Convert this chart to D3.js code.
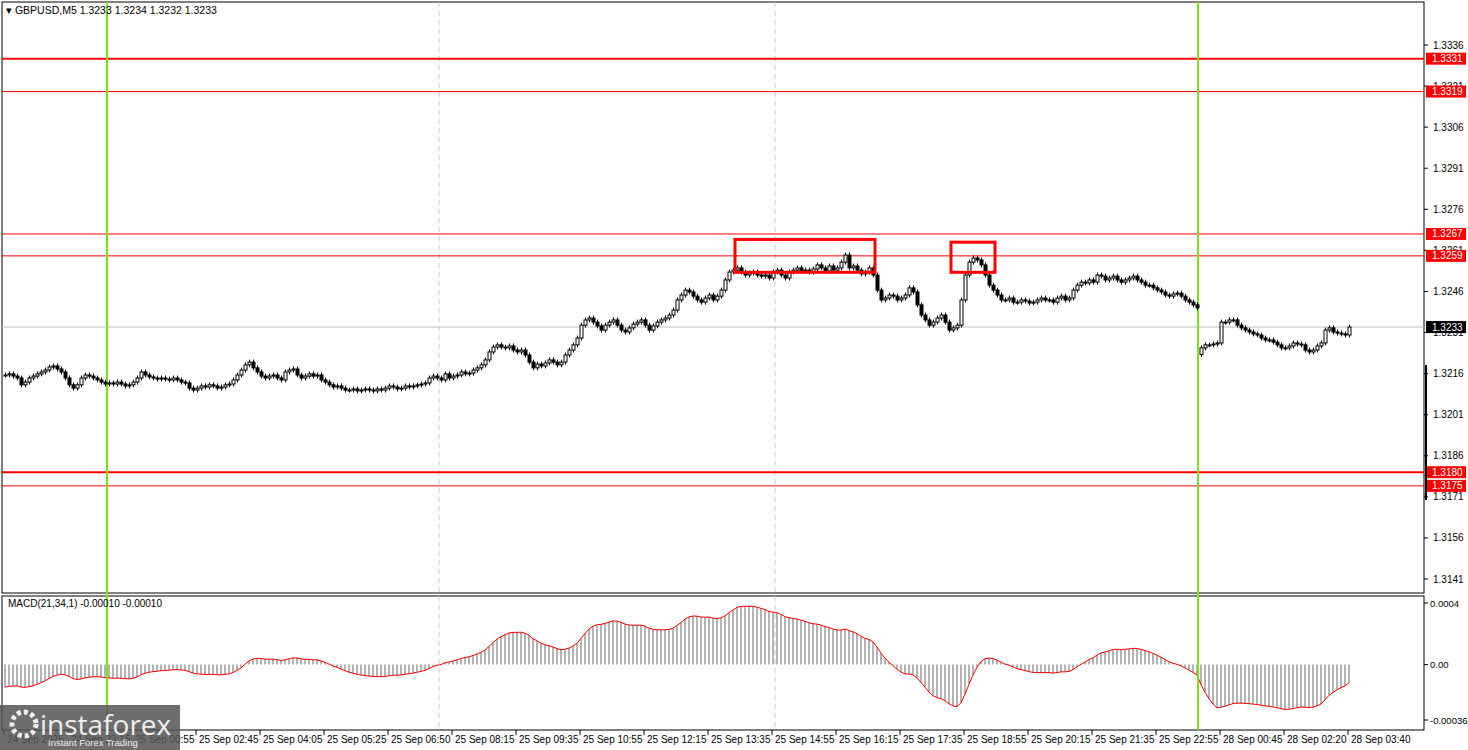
<!DOCTYPE html>
<html><head><meta charset="utf-8">
<script src="https://cdn.jsdelivr.net/npm/d3@7"></script>
<style>body{margin:0;background:#fff}svg{display:block;font-family:"Liberation Sans",Arial,sans-serif}</style>
</head><body><svg id="c" width="1468" height="750"></svg>
<script>
const closes=[
1.32155,1.32159,1.32151,1.32144,1.32119,1.32129,1.32144,1.32151,1.32159,1.32166,1.32173,1.32184,1.32188,1.32177,1.32166,1.32144,1.32119,1.32107,1.32119,1.32144,1.32155,1.32151,1.32144,1.32137,1.32129,1.32122,
1.32126,1.32122,1.32129,1.32122,1.32115,1.32119,1.32129,1.32144,1.32166,1.32155,1.32148,1.32144,1.32140,1.32144,1.32140,1.32137,1.32144,1.32137,1.32129,1.32126,1.32107,1.32100,1.32107,1.32115,1.32111,
1.32119,1.32115,1.32107,1.32111,1.32119,1.32122,1.32137,1.32155,1.32173,1.32192,1.32202,1.32181,1.32166,1.32151,1.32144,1.32151,1.32155,1.32144,1.32137,1.32166,1.32173,1.32177,1.32155,1.32144,1.32151,
1.32159,1.32151,1.32155,1.32137,1.32129,1.32119,1.32111,1.32115,1.32107,1.32100,1.32100,1.32104,1.32097,1.32100,1.32104,1.32100,1.32097,1.32104,1.32100,1.32107,1.32115,1.32111,1.32104,1.32107,1.32115,
1.32111,1.32115,1.32119,1.32122,1.32126,1.32144,1.32151,1.32144,1.32137,1.32159,
1.32144,1.32151,1.32155,1.32166,1.32159,1.32162,1.32173,1.32181,1.32192,1.32210,1.32239,1.32257,1.32265,1.32257,1.32254,1.32261,1.32246,1.32239,1.32246,1.32228,1.32202,1.32181,1.32195,1.32188,1.32199,
1.32210,1.32202,1.32192,1.32202,1.32228,1.32246,1.32265,1.32290,1.32337,1.32356,1.32363,1.32348,1.32334,1.32319,1.32337,1.32348,1.32356,1.32337,1.32319,1.32312,1.32327,1.32341,1.32348,1.32356,1.32337,
1.32319,1.32334,1.32348,1.32356,1.32363,1.32374,1.32392,1.32429,1.32447,1.32465,1.32458,1.32443,1.32429,1.32421,1.32436,1.32447,1.32429,1.32443,1.32465,1.32502,1.32531,1.32538,1.32546,1.32531,1.32520,
1.32527,1.32531,1.32520,1.32516,1.32520,1.32509,1.32531,1.32538,1.32520,1.32509,1.32531,1.32538,1.32546,1.32535,1.32538,1.32531,1.32542,1.32557,1.32546,1.32535,1.32553,1.32538,1.32546,1.32567,1.32593,
1.32546,1.32553,1.32538,1.32524,1.32531,1.32546,1.32520,1.32465,1.32429,1.32436,1.32447,1.32443,1.32429,1.32436,1.32447,1.32473,1.32458,1.32411,1.32374,1.32356,1.32337,1.32348,1.32363,1.32374,1.32348,
1.32319,1.32327,1.32337,1.32429,1.32520,1.32567,1.32582,1.32575,1.32557,1.32520,1.32483,1.32465,1.32447,1.32429,1.32429,1.32436,1.32421,1.32421,1.32429,1.32425,1.32418,1.32421,1.32429,1.32436,1.32429,
1.32429,1.32421,1.32436,1.32443,1.32429,1.32436,1.32465,1.32483,1.32494,1.32491,1.32502,1.32494,1.32520,1.32516,1.32502,1.32509,1.32516,1.32502,1.32494,1.32502,1.32509,1.32516,1.32502,1.32494,1.32483,
1.32483,1.32473,1.32465,1.32458,1.32447,1.32443,1.32451,1.32454,1.32443,1.32429,1.32421,1.32411,1.32400,
1.32254,1.32265,1.32265,1.32268,1.32272,1.32348,1.32348,1.32356,1.32356,1.32337,1.32327,1.32319,1.32312,1.32305,1.32301,1.32290,1.32283,1.32283,1.32275,1.32265,1.32254,1.32254,1.32261,1.32272,1.32268,1.32265,1.32246,1.32239,1.32246,1.32261,1.32272,1.32319,1.32327,1.32312,1.32308,1.32305,1.32301,1.32330];
const gapOpen={299:1.32230};
const priceTicks=[1.3336,1.3321,1.3306,1.3291,1.3276,1.3261,1.3246,1.3231,1.3216,1.3201,1.3186,1.3171,1.3156,1.3141];
const levels=[{p:1.3331,w:2},{p:1.3319,w:1},{p:1.3267,w:1},{p:1.3259,w:1},{p:1.3180,w:2},{p:1.3175,w:1}];
const lastPrice=1.3233;
const timeLabels=["24 Sep 2025","24 Sep 23:15","25 Sep 00:55","25 Sep 02:45","25 Sep 04:05","25 Sep 05:25","25 Sep 06:50","25 Sep 08:15","25 Sep 09:35","25 Sep 10:55","25 Sep 12:15","25 Sep 13:35","25 Sep 14:55","25 Sep 16:15","25 Sep 17:35","25 Sep 18:55","25 Sep 20:15","25 Sep 21:35","25 Sep 22:55","28 Sep 00:45","28 Sep 02:20","28 Sep 03:40"];
const macdTicks=[{v:0.0004,t:"0.0004"},{v:0,t:"0.00"},{v:-0.00036,t:"-0.00036"}];
const dayLines=[25.5,298.25];
const sepLines=[108.5,192.5];
const boxes=[{i0:182.5,i1:217.5,hi:1.3265,lo:1.3253},{i0:236.5,i1:247.5,hi:1.3264,lo:1.3253}];

const svg=d3.select("#c");
const L=2,R=1424,T=2,B=593,MT=596,MB=730;
const x=d3.scaleLinear().domain([0,closes.length-1]).range([5,1349]);
const y=d3.scaleLinear().domain([1.3141,1.3336]).range([579,45]);
const ym=d3.scaleLinear().domain([-0.00036,0.0004]).range([720,603]);

const opens=closes.map((c,i)=>gapOpen[i]!==undefined?gapOpen[i]:(i?closes[i-1]:c));
let e21=1.32170,e34=1.32185;const a21=2/22,a34=2/35;
const macd=closes.map(c=>{e21+=a21*(c-e21);e34+=a34*(c-e34);return e21-e34;});

svg.append("rect").attr("x",L).attr("y",T).attr("width",R-L).attr("height",B-T).attr("fill","none").attr("stroke","#000");
svg.append("rect").attr("x",L).attr("y",MT).attr("width",R-L).attr("height",MB-MT).attr("fill","none").attr("stroke","#000");

sepLines.forEach(i=>{svg.append("line").attr("x1",x(i)).attr("x2",x(i)).attr("y1",T).attr("y2",MB).attr("stroke","#c8c8c8").attr("stroke-dasharray","5,4");});
svg.append("line").attr("x1",L).attr("x2",R).attr("y1",y(lastPrice)).attr("y2",y(lastPrice)).attr("stroke","#c0c0c0");
levels.forEach(l=>svg.append("line").attr("x1",L).attr("x2",R).attr("y1",y(l.p)).attr("y2",y(l.p)).attr("stroke","#f00").attr("stroke-width",l.w));

svg.append("g").selectAll("line").data(macd).join("line")
 .attr("x1",(d,i)=>x(i)).attr("x2",(d,i)=>x(i)).attr("y1",ym(0)).attr("y2",d=>ym(d)).attr("stroke","#b4b4b4").attr("stroke-width",2);
svg.append("path").datum(macd).attr("d",d3.line().x((d,i)=>x(i)).y(d=>ym(d))).attr("fill","none").attr("stroke","#f00").attr("stroke-width",1);

dayLines.forEach(i=>svg.append("line").attr("x1",x(i)).attr("x2",x(i)).attr("y1",T).attr("y2",MB).attr("stroke","#7fe01e").attr("stroke-width",2));

const wk=0.00009;
const g=svg.append("g");
closes.forEach((c,i)=>{
 const o=opens[i],hi=Math.max(o,c)+wk,lo=Math.min(o,c)-wk,xx=Math.round(x(i))+0.5;
 g.append("line").attr("x1",xx).attr("x2",xx).attr("y1",y(hi)).attr("y2",y(lo)).attr("stroke","#000");
 const top=y(Math.max(o,c)),h=Math.max(1,Math.abs(y(o)-y(c)));
 g.append("rect").attr("x",xx-1.5).attr("y",top).attr("width",3).attr("height",h).attr("fill",c>=o?"#fff":"#000").attr("stroke","#000").attr("stroke-width",1);
});
boxes.forEach(b=>svg.append("rect").attr("x",x(b.i0)).attr("y",y(b.hi)).attr("width",x(b.i1)-x(b.i0)).attr("height",y(b.lo)-y(b.hi)).attr("fill","none").attr("stroke","#f00").attr("stroke-width",3));

const ax=svg.append("g").attr("font-size",10);
priceTicks.forEach(p=>{ax.append("line").attr("x1",R).attr("x2",R+4).attr("y1",y(p)).attr("y2",y(p)).attr("stroke","#000");
 ax.append("text").attr("x",R+9).attr("y",y(p)+3.5).text(p.toFixed(4));});
levels.forEach(l=>{ax.append("rect").attr("x",R+2).attr("y",y(l.p)-6).attr("width",40).attr("height",12).attr("fill","#f00");
 ax.append("text").attr("x",R+8).attr("y",y(l.p)+3.5).attr("fill","#fff").text(l.p.toFixed(4));});
ax.append("rect").attr("x",R+2).attr("y",y(lastPrice)-6).attr("width",40).attr("height",12).attr("fill","#000");
ax.append("text").attr("x",R+8).attr("y",y(lastPrice)+3.5).attr("fill","#fff").text(lastPrice.toFixed(4));
svg.append("line").attr("x1",R+2).attr("x2",R+2).attr("y1",365).attr("y2",500).attr("stroke","#000").attr("stroke-width",2);
macdTicks.forEach(m=>{ax.append("line").attr("x1",R).attr("x2",R+4).attr("y1",ym(m.v)).attr("y2",ym(m.v)).attr("stroke","#000");
 ax.append("text").attr("x",R+6).attr("y",ym(m.v)+3.5).attr("font-size",9.5).text(m.t);});

const ta=svg.append("g").attr("font-size",10);
timeLabels.forEach((t,k)=>{const xx=x(k*16)-1;
 ta.append("line").attr("x1",xx).attr("x2",xx).attr("y1",MB).attr("y2",MB+5).attr("stroke","#000");
 ta.append("text").attr("x",xx+3).attr("y",743).text(t);});

svg.append("text").attr("x",6).attr("y",14).attr("font-size",10.5).text("▾ GBPUSD,M5  1.3233 1.3234 1.3232 1.3233");
svg.append("text").attr("x",8).attr("y",607).attr("font-size",10).text("MACD(21,34,1) -0.00010 -0.00010");

const wm=svg.append("g");
wm.append("rect").attr("x",0).attr("y",705).attr("width",180).attr("height",45).attr("fill","#555").attr("opacity",0.85);
wm.append("circle").attr("cx",24).attr("cy",724).attr("r",12).attr("fill","none").attr("stroke","#eee").attr("stroke-width",5).attr("stroke-dasharray","4,3");
wm.append("text").attr("x",40).attr("y",735).attr("font-size",28).attr("fill","#eee").attr("font-family","Open Sans, sans-serif").text("instaforex");
wm.append("text").attr("x",48).attr("y",746).attr("font-size",9.5).attr("fill","#eee").text("Instant Forex Trading");
</script></body></html>
